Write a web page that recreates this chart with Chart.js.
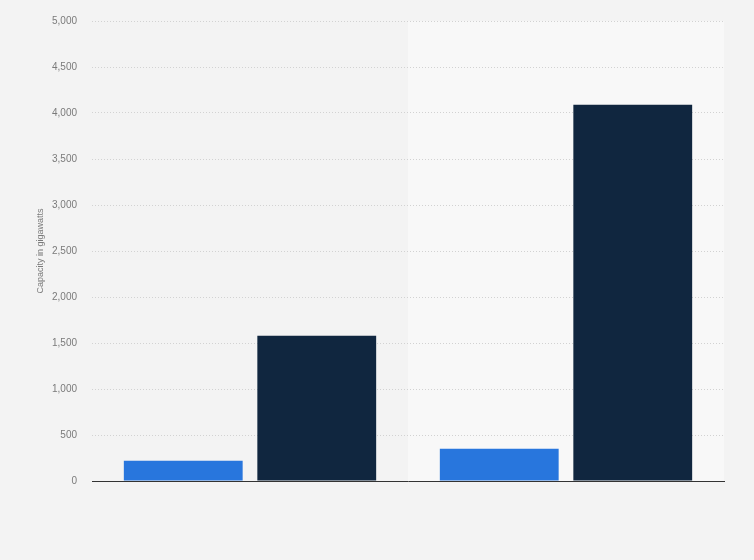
<!DOCTYPE html>
<html>
<head>
<meta charset="utf-8">
<script src="https://cdn.jsdelivr.net/npm/chart.js@4"></script>
<style>
  html, body { margin: 0; padding: 0; background: #f3f3f3; }
  #wrap { width: 754px; height: 560px; }
</style>
</head>
<body>
<div id="wrap"><canvas id="chart" width="754" height="560"></canvas></div>
<script>
// values (gigawatts)
const categories = ['Category 1', 'Category 2'];
const seriesA = [220, 350];
const seriesB = [1580, 4090];
const yTicks = [0, 500, 1000, 1500, 2000, 2500, 3000, 3500, 4000, 4500, 5000];

// lighter band behind every second category
const bandPlugin = {
  id: 'band',
  beforeDraw(chart) {
    const { ctx, chartArea, scales } = chart;
    const x = scales.x;
    ctx.save();
    ctx.fillStyle = '#f8f8f8';
    for (let i = 1; i < categories.length; i += 2) {
      const half = (x.getPixelForValue(1) - x.getPixelForValue(0)) / 2;
      const c = x.getPixelForValue(i);
      ctx.fillRect(c - half, chartArea.top, half * 2, chartArea.bottom - chartArea.top);
    }
    ctx.restore();
  }
};

Chart.defaults.font.family = '"Liberation Sans", Arial, sans-serif';

new Chart(document.getElementById('chart').getContext('2d'), {
  type: 'bar',
  data: {
    labels: categories,
    datasets: [
      { label: 'Series A', data: seriesA, backgroundColor: '#2876dd', borderWidth: 0 },
      { label: 'Series B', data: seriesB, backgroundColor: '#10263f', borderWidth: 0 }
    ]
  },
  options: {
    responsive: false,
    animation: false,
    barPercentage: 0.89,
    categoryPercentage: 0.845,
    layout: { padding: { left: 0, right: 30, top: 20, bottom: 79 } },
    plugins: { legend: { display: false }, tooltip: { enabled: false } },
    scales: {
      x: {
        ticks: { display: false },
        grid: { display: false, drawTicks: false },
        border: { display: true, color: '#333333', width: 1 }
      },
      y: {
        min: 0, max: 5000,
        afterFit(axis) { axis.width = 92; },
        afterBuildTicks(axis) { axis.ticks = yTicks.map(v => ({ value: v })); },
        ticks: {
          color: '#7a7a7a', padding: 15,
          font: { size: 10 },
          callback: v => v.toLocaleString('en-US')
        },
        grid: { color: '#d2d2d2', drawTicks: false },
        border: { display: false, dash: [1, 2] },
        title: {
          display: true, text: 'Capacity in gigawatts',
          color: '#7a7a7a', font: { size: 9 },
          padding: { top: 35, bottom: 0 }
        }
      }
    }
  },
  plugins: [bandPlugin]
});
</script>
</body>
</html>
